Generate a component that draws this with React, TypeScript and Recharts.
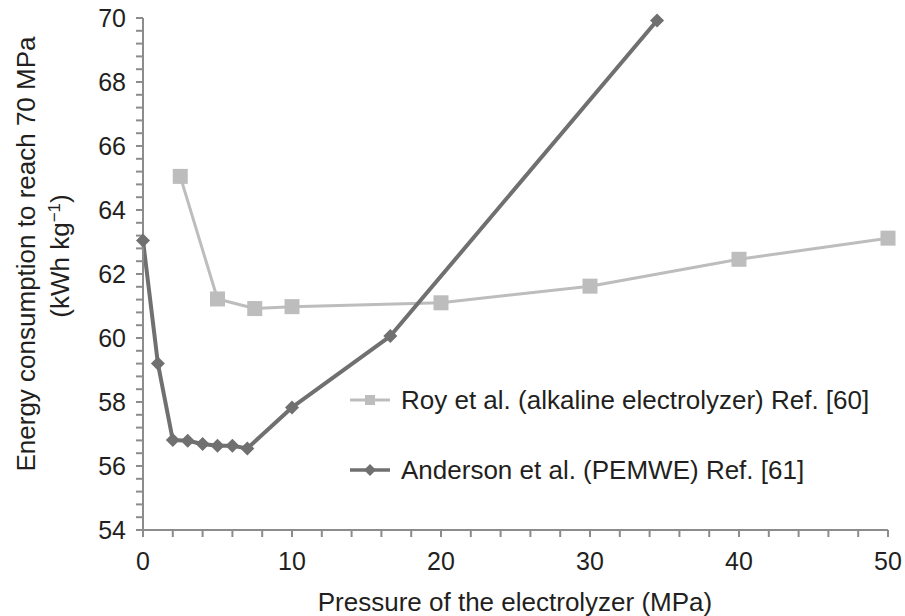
import { LineChart, Line, XAxis, YAxis, Legend } from "recharts";

// Roy et al. (alkaline electrolyzer)
const royPressure = [2.5, 5, 7.5, 10, 20, 30, 40, 50];
const royEnergy = [65.05, 61.22, 60.92, 60.98, 61.1, 61.62, 62.46, 63.12];

// Anderson et al. (PEMWE)
const andersonPressure = [0, 1, 2, 3, 4, 5, 6, 7, 10, 16.6, 34.5];
const andersonEnergy = [63.05, 59.2, 56.81, 56.79, 56.69, 56.63, 56.63, 56.55, 57.83, 60.06, 69.92];

const xMajorTicks = [0, 10, 20, 30, 40, 50];
const yMajorTicks = [54, 56, 58, 60, 62, 64, 66, 68, 70];

const seriesNames = [
  "Roy et al. (alkaline electrolyzer) Ref. [60]",
  "Anderson et al. (PEMWE) Ref. [61]",
];

const ROY_COLOR = "#bdbdbd";
const ANDERSON_COLOR = "#707070";
const AXIS_COLOR = "#8c8c8c";
const TEXT_COLOR = "#231f20";
const FONT = "'Liberation Sans', Arial, Helvetica, sans-serif";

const SQUARE = 15;
const DIAMOND = 7;

const royData = royPressure.map((x, i) => ({ x, y: royEnergy[i] }));
const andersonData = andersonPressure.map((x, i) => ({ x, y: andersonEnergy[i] }));

// minor ticks: every 2 MPa on x, every 0.4 on y
const xTicks = Array.from({ length: 26 }, (_, i) => i * 2);
const yTicks = Array.from({ length: 41 }, (_, i) => Math.round((54 + i * 0.4) * 10) / 10);

const SquareDot = (props: any) => {
  const { cx, cy, index } = props;
  if (cx == null || cy == null) return null;
  return (
    <rect
      key={`sq-${index}`}
      x={cx - SQUARE / 2}
      y={cy - SQUARE / 2}
      width={SQUARE}
      height={SQUARE}
      fill={ROY_COLOR}
    />
  );
};

const DiamondDot = (props: any) => {
  const { cx, cy, index } = props;
  if (cx == null || cy == null) return null;
  const r = DIAMOND;
  return (
    <polygon
      key={`dm-${index}`}
      points={`${cx},${cy - r} ${cx + r},${cy} ${cx},${cy + r} ${cx - r},${cy}`}
      fill={ANDERSON_COLOR}
    />
  );
};

const LegendBox = () => (
  <div style={{ fontFamily: FONT, fontSize: 26, color: TEXT_COLOR }}>
    {seriesNames.map((name, i) => (
      <div
        key={name}
        style={{ display: "flex", alignItems: "center", height: 36, marginBottom: i === 0 ? 34 : 0 }}
      >
        <svg width={48} height={20} style={{ marginRight: 3 }}>
          <line
            x1={0}
            y1={10}
            x2={40}
            y2={10}
            stroke={i === 0 ? ROY_COLOR : ANDERSON_COLOR}
            strokeWidth={i === 0 ? 3 : 3.5}
          />
          {i === 0 ? (
            <rect x={15} y={5} width={10} height={10} fill={ROY_COLOR} />
          ) : (
            <polygon points="20,4 26,10 20,16 14,10" fill={ANDERSON_COLOR} />
          )}
        </svg>
        <span>{name}</span>
      </div>
    ))}
  </div>
);

const YLabel = () => (
  <g fontFamily={FONT} fontSize={26} fill={TEXT_COLOR}>
    <text x={35} y={254} transform="rotate(-90 35 254)" textAnchor="middle">
      Energy consumption to reach 70 MPa
    </text>
    <text x={69} y={256} transform="rotate(-90 69 256)" textAnchor="middle">
      (kWh kg
      <tspan baselineShift="super" fontSize={17}>
        −1
      </tspan>
      )
    </text>
  </g>
);

const XLabel = () => (
  <text x={515} y={611} textAnchor="middle" fontFamily={FONT} fontSize={26} fill={TEXT_COLOR}>
    Pressure of the electrolyzer (MPa)
  </text>
);

export default function App() {
  return (
    <div style={{ position: "absolute", left: 0, top: 0, background: "#fff" }}>
      <LineChart width={905} height={616} margin={{ top: 18, right: 17, bottom: 0, left: 0 }}>
        <XAxis
          type="number"
          dataKey="x"
          domain={[0, 50]}
          ticks={xTicks}
          interval={0}
          tickSize={7}
          tickMargin={15}
          height={86}
          stroke={AXIS_COLOR}
          strokeWidth={2}
          tickFormatter={(v: number) => (xMajorTicks.includes(v) ? String(v) : "")}
          tick={{ fill: TEXT_COLOR, fontSize: 25, fontFamily: FONT }}
          allowDuplicatedCategory={false}
          label={<XLabel />}
        />
        <YAxis
          type="number"
          dataKey="y"
          domain={[54, 70]}
          ticks={yTicks}
          interval={0}
          tickSize={7}
          tickMargin={10}
          width={143}
          stroke={AXIS_COLOR}
          strokeWidth={2}
          tickFormatter={(v: number) => (yMajorTicks.includes(v) ? String(v) : "")}
          tick={{ fill: TEXT_COLOR, fontSize: 25, fontFamily: FONT }}
          label={<YLabel />}
        />
        <Legend
          layout="vertical"
          align="center"
          verticalAlign="middle"
          content={() => <LegendBox />}
          wrapperStyle={{ left: 350, top: 382, width: 550 }}
        />
        <Line
          data={royData}
          dataKey="y"
          name={seriesNames[0]}
          type="linear"
          stroke={ROY_COLOR}
          strokeWidth={3}
          strokeLinejoin="round"
          dot={<SquareDot />}
          activeDot={false}
          isAnimationActive={false}
        />
        <Line
          data={andersonData}
          dataKey="y"
          name={seriesNames[1]}
          type="linear"
          stroke={ANDERSON_COLOR}
          strokeWidth={4}
          strokeLinejoin="round"
          dot={<DiamondDot />}
          activeDot={false}
          isAnimationActive={false}
        />
      </LineChart>
    </div>
  );
}
